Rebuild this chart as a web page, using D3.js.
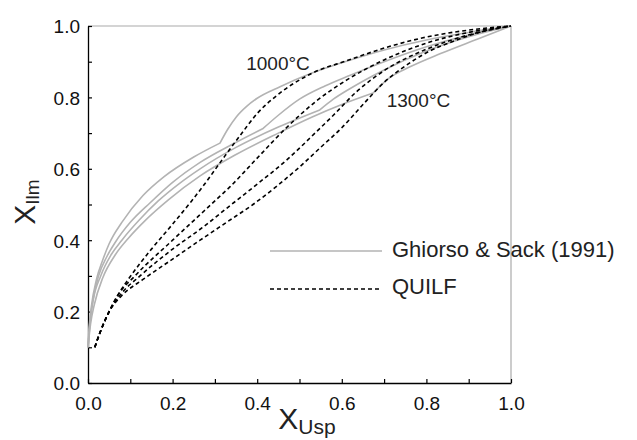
<!DOCTYPE html>
<html><head><meta charset="utf-8">
<script src="https://cdn.jsdelivr.net/npm/d3@7/dist/d3.min.js"></script>
<style>
html,body{margin:0;padding:0;background:#fff;}
svg{display:block;font-family:"Liberation Sans",Arial,Helvetica,sans-serif;}
</style></head>
<body>
<svg id="chart" width="637" height="440"></svg>
<script>
// Ghiorso & Sack (1991) curves, 1000°C ... 1300°C  [X_Usp, X_Ilm]
const gs1000 = [[0,0.1],[0.003,0.16],[0.008,0.215],[0.02,0.29],[0.035,0.345],[0.05,0.39],[0.08,0.45],[0.13,0.525],[0.18,0.578],[0.25,0.633],[0.312,0.672],[0.33,0.71],[0.351,0.746],[0.375,0.775],[0.399,0.797],[0.454,0.83],[0.525,0.866],[0.6,0.897],[0.7,0.933],[0.8,0.961],[0.9,0.982],[1,1]];
const gs1100 = [[0,0.1],[0.004,0.165],[0.01,0.22],[0.025,0.3],[0.045,0.355],[0.065,0.395],[0.1,0.45],[0.147,0.505],[0.2,0.562],[0.265,0.618],[0.34,0.668],[0.414,0.713],[0.45,0.75],[0.50,0.795],[0.56,0.832],[0.62,0.862],[0.7,0.9],[0.8,0.942],[0.9,0.975],[1,1]];
const gs1200 = [[0,0.1],[0.005,0.17],[0.012,0.23],[0.03,0.3],[0.055,0.36],[0.08,0.40],[0.12,0.455],[0.166,0.51],[0.215,0.558],[0.265,0.60],[0.35,0.66],[0.45,0.717],[0.548,0.765],[0.58,0.795],[0.62,0.825],[0.7,0.877],[0.8,0.93],[0.9,0.97],[1,1]];
const gs1300 = [[0,0.1],[0.006,0.165],[0.015,0.22],[0.035,0.295],[0.065,0.36],[0.095,0.405],[0.135,0.455],[0.19,0.513],[0.265,0.58],[0.35,0.64],[0.45,0.70],[0.53,0.745],[0.6,0.78],[0.674,0.812],[0.714,0.856],[0.76,0.885],[0.832,0.922],[0.92,0.963],[1,1]];
const gsKinks = [0.312, 0.414, 0.548, 0.674];
// QUILF curves
const q1000 = [[0.016,0.1],[0.028,0.14],[0.05,0.2],[0.07,0.245],[0.095,0.29],[0.15,0.375],[0.2,0.445],[0.245,0.51],[0.273,0.553],[0.32,0.63],[0.367,0.705],[0.40,0.755],[0.446,0.805],[0.525,0.865],[0.612,0.903],[0.714,0.943],[0.792,0.967],[0.872,0.984],[0.95,0.995],[1,1]];
const q1100 = [[0.016,0.1],[0.028,0.14],[0.05,0.2],[0.07,0.245],[0.111,0.30],[0.2,0.40],[0.25,0.455],[0.288,0.497],[0.336,0.55],[0.40,0.63],[0.469,0.715],[0.54,0.79],[0.612,0.849],[0.7,0.905],[0.8,0.952],[0.9,0.982],[1,1]];
const q1200 = [[0.016,0.1],[0.028,0.14],[0.05,0.2],[0.075,0.245],[0.123,0.30],[0.2,0.375],[0.27,0.435],[0.336,0.497],[0.40,0.557],[0.47,0.625],[0.541,0.705],[0.58,0.75],[0.635,0.816],[0.7,0.875],[0.8,0.935],[0.9,0.975],[1,1]];
const q1300 = [[0.016,0.1],[0.028,0.14],[0.05,0.2],[0.08,0.245],[0.13,0.29],[0.2,0.347],[0.265,0.40],[0.33,0.452],[0.39,0.50],[0.45,0.555],[0.5,0.605],[0.55,0.66],[0.6,0.715],[0.65,0.78],[0.7,0.842],[0.75,0.888],[0.8,0.925],[0.87,0.96],[0.95,0.99],[1,1]];
const gsSeries = [gs1000, gs1100, gs1200, gs1300];
const quilfSeries = [q1000, q1100, q1200, q1300];
const xTicks = [0,0.1,0.2,0.3,0.4,0.5,0.6,0.7,0.8,0.9,1.0];
const yTicks = [0,0.1,0.2,0.3,0.4,0.5,0.6,0.7,0.8,0.9,1.0];
const labelTicks = [0,0.2,0.4,0.6,0.8,1.0];
const legendLabels = ["Ghiorso & Sack (1991)", "QUILF"];
const annotations = [{text:"1000°C", x:0.374, y:0.876}, {text:"1300°C", x:0.706, y:0.772}];

const svg = d3.select("#chart");
const L = 88, R = 511, T = 26, B = 383;
const x = d3.scaleLinear().domain([0,1]).range([L,R]);
const y = d3.scaleLinear().domain([0,1]).range([B,T]);

// frame top/right
svg.append("line").attr("x1",L).attr("x2",R).attr("y1",T).attr("y2",T).attr("stroke","#aaa").attr("stroke-width",1.2);
svg.append("line").attr("x1",R).attr("x2",R).attr("y1",T).attr("y2",B).attr("stroke","#aaa").attr("stroke-width",1.2);

const fmt = d => labelTicks.some(t => Math.abs(t-d)<1e-9) ? d3.format(".1f")(d) : "";
const xAxis = svg.append("g").attr("transform",`translate(0,${B})`)
  .call(d3.axisBottom(x).tickValues(xTicks).tickFormat(fmt).tickSizeInner(-4).tickSizeOuter(0).tickPadding(14));
const yAxis = svg.append("g").attr("transform",`translate(${L},0)`)
  .call(d3.axisLeft(y).tickValues(yTicks).tickFormat(fmt).tickSizeInner(-4).tickSizeOuter(0).tickPadding(8));
[xAxis,yAxis].forEach(g=>{
  g.select(".domain").attr("stroke","#000").attr("stroke-width",1.3);
  g.selectAll(".tick line").attr("stroke","#000").attr("stroke-width",1.2);
  g.selectAll(".tick text").attr("font-size",19).attr("fill","#111").attr("font-family","Liberation Sans, Arial, sans-serif");
});
yAxis.selectAll(".tick text").attr("dy","0.36em");

const line = d3.line().x(d=>x(d[0])).y(d=>y(d[1])).curve(d3.curveMonotoneX);
// split each Ghiorso & Sack series at its kink so the corner stays sharp
const gsPath = (s,i) => {
  const k = gsKinks[i];
  const a = s.filter(d => d[0] <= k + 1e-9), b = s.filter(d => d[0] >= k - 1e-9);
  return line(a) + line(b).replace(/^M/,"L");
};
const plot = svg.append("g");
plot.selectAll(".gs").data(gsSeries).join("path").attr("class","gs")
  .attr("d",(d,i)=>gsPath(d,i)).attr("fill","none").attr("stroke","#b3b3b3").attr("stroke-width",1.6).attr("stroke-linejoin","round");
plot.selectAll(".q").data(quilfSeries).join("path").attr("class","q")
  .attr("d",line).attr("fill","none").attr("stroke","#000").attr("stroke-width",1.6).attr("stroke-dasharray","4,3");

// annotations
svg.selectAll(".ann").data(annotations).join("text").attr("class","ann")
  .attr("x",d=>x(d.x)).attr("y",d=>y(d.y)).attr("font-size",19).attr("fill","#222").text(d=>d.text);

// legend
const leg = svg.append("g");
leg.append("line").attr("x1",270).attr("x2",382).attr("y1",251).attr("y2",251).attr("stroke","#b3b3b3").attr("stroke-width",1.6);
leg.append("line").attr("x1",270).attr("x2",382).attr("y1",289).attr("y2",289).attr("stroke","#000").attr("stroke-width",1.6).attr("stroke-dasharray","4,3");
leg.append("text").attr("x",392).attr("y",257).attr("font-size",22).attr("fill","#222").text(legendLabels[0]);
leg.append("text").attr("x",392).attr("y",294).attr("font-size",22).attr("fill","#222").text(legendLabels[1]);

// axis titles
const xt = svg.append("text").attr("x",307).attr("y",429).attr("text-anchor","middle").attr("fill","#222");
xt.append("tspan").attr("font-size",30).text("X");
xt.append("tspan").attr("font-size",21).attr("dy",5).text("Usp");
const yt = svg.append("text").attr("transform","translate(35,202) rotate(-90)").attr("text-anchor","middle").attr("fill","#222");
yt.append("tspan").attr("font-size",30).text("X");
yt.append("tspan").attr("font-size",19).attr("dy",4).text("Ilm");
</script>
</body></html>
